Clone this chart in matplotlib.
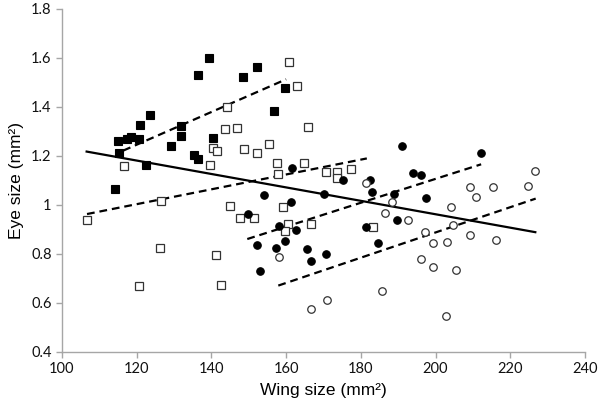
import numpy as np
import matplotlib
matplotlib.use("Agg")
import matplotlib.pyplot as plt

# filled squares
sq_f_x = [139.3, 136.4, 148.4, 152.2, 123.6, 120.8, 131.9, 131.9, 114.9, 117.4, 118.4,
          120.5, 140.3, 129.1, 115.3, 135.3, 136.5, 122.4, 114.3, 156.7, 159.8]
sq_f_y = [1.600, 1.529, 1.524, 1.565, 1.366, 1.328, 1.324, 1.283, 1.262, 1.269, 1.279,
          1.268, 1.272, 1.241, 1.213, 1.205, 1.186, 1.165, 1.064, 1.385, 1.478]

# open squares
sq_o_x = [144.2, 143.7, 146.9, 140.5, 141.5, 148.6, 139.6, 116.6, 126.5, 145.0, 147.6,
          151.5, 126.3, 141.2, 120.6, 142.6, 106.7, 165.8, 152.1, 155.3, 157.6, 164.8,
          157.7, 170.7, 173.5, 173.5, 177.4, 159.2, 160.4, 159.7, 166.7, 183.2, 160.8, 163.0]
sq_o_y = [1.400, 1.310, 1.314, 1.231, 1.220, 1.229, 1.163, 1.158, 1.018, 0.995, 0.948,
          0.946, 0.826, 0.795, 0.668, 0.675, 0.940, 1.320, 1.212, 1.248, 1.171, 1.170,
          1.127, 1.135, 1.136, 1.109, 1.148, 0.990, 0.922, 0.894, 0.921, 0.910, 1.582, 1.487]

# filled circles
ci_f_x = [161.7, 175.3, 182.5, 183.0, 154.2, 170.2, 161.2, 149.8, 189.0, 189.6, 158.2,
          162.6, 181.4, 152.3, 157.3, 159.7, 165.5, 184.5, 166.7, 170.8, 153.1, 191.1,
          212.2, 194.0, 196.0, 197.4]
ci_f_y = [1.152, 1.103, 1.101, 1.054, 1.042, 1.045, 1.011, 0.963, 1.044, 0.937, 0.913,
          0.898, 0.909, 0.838, 0.823, 0.853, 0.819, 0.845, 0.773, 0.801, 0.732, 1.242,
          1.212, 1.129, 1.122, 1.030]

# open circles
ci_o_x = [181.5, 188.4, 186.5, 158.0, 185.7, 171.0, 166.7, 192.5, 226.6, 209.1, 215.4,
          224.8, 210.7, 204.1, 204.6, 197.3, 199.4, 203.0, 209.3, 216.3, 196.0, 199.2,
          205.4, 202.9]
ci_o_y = [1.090, 1.011, 0.967, 0.786, 0.649, 0.612, 0.577, 0.939, 1.140, 1.075, 1.073,
          1.076, 1.031, 0.992, 0.920, 0.889, 0.846, 0.850, 0.878, 0.857, 0.781, 0.747,
          0.736, 0.546]

# trend lines (start x, end x, start y, end y)
all_line = ([106.6, 226.7], [1.218, 0.889])
dash_lines = [
    ([116.4, 160.0], [1.222, 1.513]),
    ([106.7, 181.6], [0.963, 1.190]),
    ([149.6, 212.2], [0.861, 1.166]),
    ([157.9, 226.8], [0.671, 1.026]),
]

fig = plt.figure(figsize=(6, 4.08), dpi=100)
ax = fig.add_axes([0.1033, 0.1373, 0.8717, 0.8407])

ax.plot(all_line[0], all_line[1], color="black", lw=1.6, zorder=2)
for lx, ly in dash_lines:
    ax.plot(lx, ly, color="black", lw=1.6, dashes=(3.5, 2.2), zorder=2)

ax.plot(sq_f_x, sq_f_y, "s", ms=5.6, mfc="black", mec="black", mew=0.8, ls="none", zorder=3)
ax.plot(sq_o_x, sq_o_y, "s", ms=5.6, mfc="white", mec="#333333", mew=0.9, ls="none", zorder=3)
ax.plot(ci_f_x, ci_f_y, "o", ms=5.4, mfc="black", mec="black", mew=0.8, ls="none", zorder=3)
ax.plot(ci_o_x, ci_o_y, "o", ms=5.4, mfc="white", mec="#333333", mew=0.9, ls="none", zorder=3)

ax.set_xlim(100, 240)
ax.set_ylim(0.4, 1.8)
ax.set_xticks(np.arange(100, 241, 20))
ax.set_yticks([0.4, 0.6, 0.8, 1.0, 1.2, 1.4, 1.6, 1.8])
ax.set_yticklabels(["0.4", "0.6", "0.8", "1", "1.2", "1.4", "1.6", "1.8"])

for side in ["top", "right"]:
    ax.spines[side].set_visible(False)
for side in ["left", "bottom"]:
    ax.spines[side].set_color("#a6a6a6")
    ax.spines[side].set_linewidth(1.0)
ax.tick_params(direction="out", length=4, width=1, color="#a6a6a6",
               labelsize=10.5, labelcolor="#111111")
for lab in ax.get_xticklabels() + ax.get_yticklabels():
    lab.set_family("Lato")

ax.set_xlabel("Wing size (mm²)", fontsize=12.5, family="Liberation Sans", labelpad=5)
ax.set_ylabel("Eye size (mm²)", fontsize=12.5, family="Liberation Sans", labelpad=5)

fig.savefig("out.png", dpi=100)
